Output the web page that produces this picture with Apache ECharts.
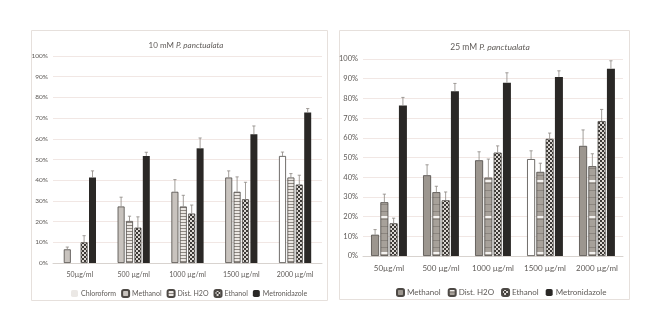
<!DOCTYPE html>
<html><head><meta charset="utf-8">
<script src="https://cdn.jsdelivr.net/npm/echarts@6/dist/echarts.min.js"></script>
<style>html,body{margin:0;padding:0;background:#fff}#c{width:660px;height:331px}</style>
</head><body><div id="c"></div>
<script>
// ---------- data ----------
const categories = ['50µg/ml', '500 µg/ml', '1000 µg/ml', '1500 µg/ml', '2000 µg/ml'];
const yTicks = ['0%','10%','20%','30%','40%','50%','60%','70%','80%','90%','100%'];

// 10 mM P. panctualata
const methanol10 = [6.6, 27.3, 34.4, 41.3, 51.7];
const methanol10Err = [1.1, 4.5, 5.9, 3.2, 1.9];
const dist10 = [null, 20.3, 27.3, 34.4, 41.3];
const dist10Err = [null, 2.3, 5.4, 7.2, 1.9];
const ethanol10 = [10.0, 17.1, 23.9, 30.8, 37.9];
const ethanol10Err = [3.2, 5.2, 4.1, 8.2, 4.5];
const metro10 = [41.3, 51.7, 55.4, 62.2, 72.7];
const metro10Err = [3.2, 1.8, 5.0, 4.0, 1.9];
const chloroform10 = [null, null, null, null, null];

// 25 mM P. panctualata
const methanol25 = [10.8, 41.0, 48.6, 49.2, 55.9];
const methanol25Err = [2.6, 5.3, 4.3, 4.2, 8.1];
const dist25 = [27.3, 32.4, 39.8, 42.7, 45.6];
const dist25Err = [4.1, 3.0, 9.4, 4.4, 6.3];
const ethanol25 = [16.6, 28.3, 52.5, 59.5, 68.5];
const ethanol25Err = [2.6, 4.2, 3.4, 2.9, 5.9];
const metro25 = [76.4, 83.6, 88.0, 90.9, 95.1];
const metro25Err = [4.1, 4.0, 5.0, 3.1, 4.0];

// ---------- styles ----------
const FONT = 'Lato';
const TXT = '#5e5a57';
const white10 = 4, white25 = 3; // categories whose first bar is drawn white

function pat(w, h, draw) {
  const c = document.createElement('canvas'); c.width = w; c.height = h;
  draw(c.getContext('2d'));
  return { image: c, repeat: 'repeat' };
}
const distPat10 = pat(4, 3, g => { g.fillStyle = '#ebe7e3'; g.fillRect(0,0,4,3); g.fillStyle = '#8e8882'; g.fillRect(0,0,4,1); });
const distPat25 = pat(4, 36, g => {
  g.fillStyle = '#a7a19a'; g.fillRect(0,0,4,36);
  g.fillStyle = '#8b857f'; for (let y = 3; y < 36; y += 7) g.fillRect(0,y,4,1);
  g.fillStyle = '#f4f2f0'; g.fillRect(0,0,4,2);
});
const checker = pat(4, 4, g => {
  g.fillStyle = '#dcd8d4'; g.fillRect(0,0,4,4);
  g.fillStyle = '#3c3936'; g.fillRect(0,0,2,2); g.fillRect(2,2,2,2);
});
const meth10Col = '#c8c3be';
const meth25Col = '#9c968f';
const border = '#4d4945';
const metroCol = '#2a2826';
const errCol = '#8c8681';

const BW10 = 7, GAP10 = 0.2, BW25 = 8, GAP25 = 0.16;

function barData(vals, whiteIdx) {
  return vals.map((v, i) => i === whiteIdx ? { value: v, itemStyle: { color: '#ffffff' } } : v);
}
function errSeries(vals, errs, k, bw, gap, xi, yi) {
  const pitch = bw * (1 + gap);
  const off = (k - 1.5) * pitch;
  const data = [];
  vals.forEach((v, i) => { if (v != null && errs[i] != null) data.push([i, v, errs[i]]); });
  return {
    type: 'custom', xAxisIndex: xi, yAxisIndex: yi, z: 5, silent: true,
    data,
    renderItem(params, api) {
      const p0 = api.coord([api.value(0), api.value(1)]);
      const p1 = api.coord([api.value(0), api.value(1) + api.value(2)]);
      const cx = p0[0] + off;
      const st = { stroke: errCol, lineWidth: 0.8 };
      return { type: 'group', children: [
        { type: 'line', shape: { x1: cx, y1: p0[1], x2: cx, y2: p1[1] }, style: st },
        { type: 'line', shape: { x1: cx - 1.6, y1: p1[1], x2: cx + 1.6, y2: p1[1] }, style: st }
      ]};
    }
  };
}
function bar(name, vals, color, xi, yi, bw, gap, whiteIdx, noBorder) {
  return {
    name, type: 'bar', xAxisIndex: xi, yAxisIndex: yi, barWidth: bw, barGap: (gap * 100) + '%',
    data: barData(vals, whiteIdx),
    itemStyle: { color, borderColor: noBorder ? color : border, borderWidth: noBorder ? 0 : 0.8 }
  };
}

const catAxis = (gi, fs) => ({
  type: 'category', gridIndex: gi, data: categories,
  axisLine: { lineStyle: { color: '#d8d3cf' } }, axisTick: { show: false },
  axisLabel: { color: TXT, fontFamily: FONT, fontSize: fs, margin: 8, interval: 0 }
});
const valAxis = (gi, fs) => ({
  type: 'value', gridIndex: gi, min: 0, max: 100, interval: 10,
  axisLabel: { color: TXT, fontFamily: FONT, fontSize: fs, margin: 5,
    formatter: v => yTicks[Math.round(v / 10)] },
  splitLine: { lineStyle: { color: '#f1e7e4', width: 1 } },
  axisLine: { show: false }, axisTick: { show: false }
});
const rich = fs => ({
  n: { fontFamily: FONT, fontSize: fs, color: TXT, fontWeight: 'normal' },
  i: { fontFamily: FONT, fontSize: fs, fontStyle: 'italic', color: TXT, fontWeight: 'normal' }
});

const chart = echarts.init(document.getElementById('c'), null, { renderer: 'canvas' });
chart.setOption({
  backgroundColor: '#ffffff',
  animation: false,
  graphic: [
    { type: 'rect', shape: { x: 31.5, y: 30.5, width: 296, height: 270 }, style: { fill: 'none', stroke: '#e6e0dc', lineWidth: 1 }, z: -1 },
    { type: 'rect', shape: { x: 339.5, y: 30.5, width: 290, height: 269 }, style: { fill: 'none', stroke: '#e6e0dc', lineWidth: 1 }, z: -1 }
  ],
  title: [
    { text: '{n|10 mM }{i|P. panctualata}', left: 181, top: 36, textAlign: 'center', textStyle: { fontWeight: 'normal', rich: rich(8) } },
    { text: '{n|25 mM }{i|P. panctualata}', left: 485, top: 38, textAlign: 'center', textStyle: { fontWeight: 'normal', rich: rich(8.5) } }
  ],
  legend: [
    { data: [{ name: 'Chloroform', itemStyle: { color: '#ebe8e5', borderWidth: 0 } }, { name: 'Methanol', itemStyle: { color: meth10Col } }, { name: 'Dist. H2O', itemStyle: { color: distPat10 } }, 'Ethanol', 'Metronidazole'],
      left: 66, top: 284, itemWidth: 7, itemHeight: 7, itemGap: 5,
      textStyle: { color: TXT, fontFamily: FONT, fontSize: 7, padding: [0, 0, 0, -2] },
      selectedMode: false },
    { data: [{ name: 'Methanol', itemStyle: { color: meth25Col } }, { name: 'Dist. H2O', itemStyle: { color: distPat25 } }, 'Ethanol', 'Metronidazole'],
      left: 391, top: 283, itemWidth: 7, itemHeight: 7, itemGap: 7,
      textStyle: { color: TXT, fontFamily: FONT, fontSize: 8, padding: [0, 0, 0, -2] },
      selectedMode: false }
  ],
  grid: [
    { left: 53, right: 338, top: 56, bottom: 68 },
    { left: 363, right: 37, top: 59, bottom: 75 }
  ],
  xAxis: [catAxis(0, 7), catAxis(1, 8), Object.assign(catAxis(0, 7), { show: false })],
  yAxis: [valAxis(0, 6.5), valAxis(1, 7.5)],
  series: [
    { name: 'Chloroform', type: 'bar', xAxisIndex: 2, yAxisIndex: 0, data: chloroform10, itemStyle: { color: '#ebe8e5' } },
    bar('Methanol', methanol10, meth10Col, 0, 0, BW10, GAP10, white10),
    bar('Dist. H2O', dist10, distPat10, 0, 0, BW10, GAP10),
    bar('Ethanol', ethanol10, checker, 0, 0, BW10, GAP10),
    bar('Metronidazole', metro10, metroCol, 0, 0, BW10, GAP10, -1, true),
    errSeries(methanol10, methanol10Err, 0, BW10, GAP10, 0, 0),
    errSeries(dist10, dist10Err, 1, BW10, GAP10, 0, 0),
    errSeries(ethanol10, ethanol10Err, 2, BW10, GAP10, 0, 0),
    errSeries(metro10, metro10Err, 3, BW10, GAP10, 0, 0),

    bar('Methanol', methanol25, meth25Col, 1, 1, BW25, GAP25, white25),
    bar('Dist. H2O', dist25, distPat25, 1, 1, BW25, GAP25),
    bar('Ethanol', ethanol25, checker, 1, 1, BW25, GAP25),
    bar('Metronidazole', metro25, metroCol, 1, 1, BW25, GAP25, -1, true),
    errSeries(methanol25, methanol25Err, 0, BW25, GAP25, 1, 1),
    errSeries(dist25, dist25Err, 1, BW25, GAP25, 1, 1),
    errSeries(ethanol25, ethanol25Err, 2, BW25, GAP25, 1, 1),
    errSeries(metro25, metro25Err, 3, BW25, GAP25, 1, 1)
  ]
});
</script></body></html>
